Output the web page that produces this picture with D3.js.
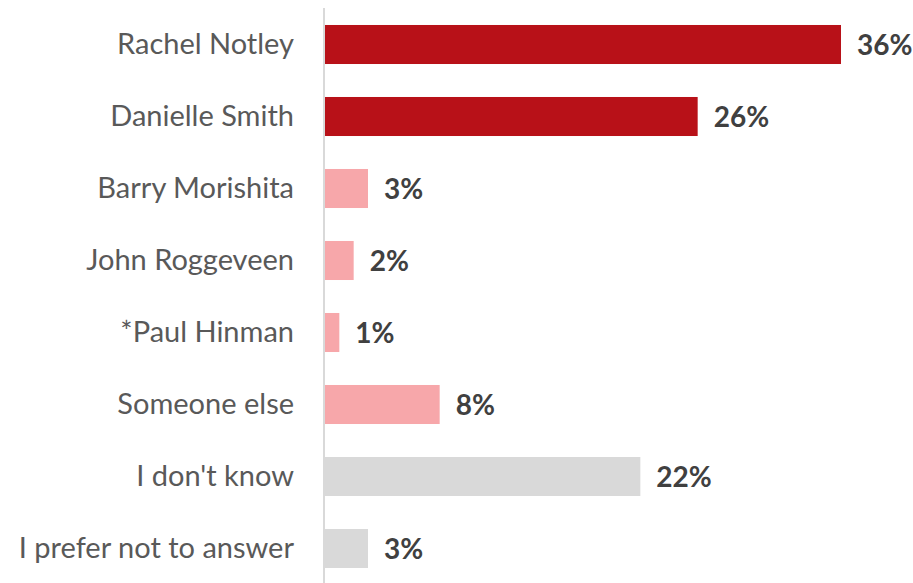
<!DOCTYPE html>
<html>
<head>
<meta charset="utf-8">
<script src="https://cdn.jsdelivr.net/npm/d3@7"></script>
<style>
  html, body { margin: 0; padding: 0; background: #ffffff; }
  svg { display: block; }
</style>
</head>
<body>
<svg id="chart" width="913" height="583"></svg>
<script>
// Candidate preference shares (%)
const categories = [
  "Rachel Notley",
  "Danielle Smith",
  "Barry Morishita",
  "John Roggeveen",
  "*Paul Hinman",
  "Someone else",
  "I don't know",
  "I prefer not to answer"
];
const values = [36, 26, 3, 2, 1, 8, 22, 3];
const groups = ["lead", "lead", "other", "other", "other", "other", "none", "none"];
const groupColors = { lead: "#b81118", other: "#f7a7aa", none: "#d9d9d9" };

const svg = d3.select("#chart");
const font = "Lato, 'Open Sans', sans-serif";

const x = d3.scaleLinear().domain([0, 36]).range([325, 841]);
const y = d3.scaleBand().domain(categories).range([8.5, 584.5]).paddingInner(0.458).paddingOuter(0.229);

// bars
svg.append("g").selectAll("rect")
  .data(categories)
  .join("rect")
  .attr("x", x(0))
  .attr("y", d => y(d))
  .attr("width", (d, i) => x(values[i]) - x(0))
  .attr("height", y.bandwidth())
  .attr("fill", (d, i) => groupColors[groups[i]]);

// vertical category axis
const axis = d3.axisLeft(y).tickSize(0).tickPadding(30);
const gAxis = svg.append("g").attr("transform", "translate(324,0)").call(axis);
gAxis.select(".domain").attr("stroke", "#d9d9d9").attr("stroke-width", 2)
  .attr("d", "M0,8V583");
gAxis.selectAll("text")
  .attr("font-family", font)
  .attr("font-size", 29)
  .attr("fill", "#595959");

// value labels
svg.append("g").selectAll("text")
  .data(categories)
  .join("text")
  .attr("x", (d, i) => x(values[i]) + 16)
  .attr("y", d => y(d) + y.bandwidth() / 2)
  .attr("dy", "0.36em")
  .attr("font-family", font)
  .attr("font-weight", "bold")
  .attr("font-size", 28)
  .attr("fill", "#404040")
  .text((d, i) => values[i] + "%");
</script>
</body>
</html>
